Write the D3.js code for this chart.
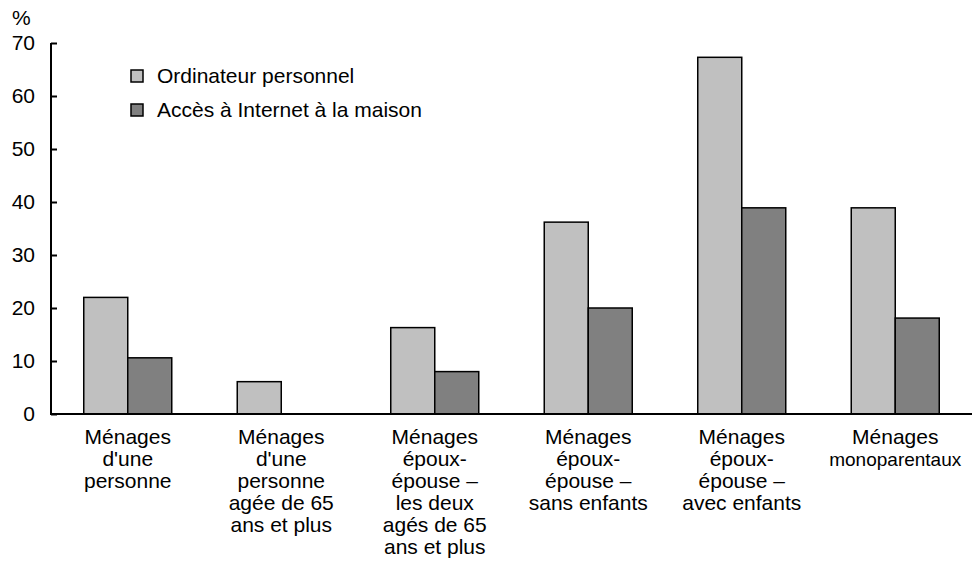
<!DOCTYPE html>
<html><head><meta charset="utf-8">
<script src="https://cdn.jsdelivr.net/npm/d3@7"></script>
<style>body{margin:0;background:#fff}svg{display:block}text{font-family:"Liberation Sans",Arial,sans-serif;fill:#000}</style>
</head><body><svg id="c" width="973" height="567"></svg>
<script>
const categories = [
  ["Ménages","d'une","personne"],
  ["Ménages","d'une","personne","agée de 65","ans et plus"],
  ["Ménages","époux-","épouse –","les deux","agés de 65","ans et plus"],
  ["Ménages","époux-","épouse –","sans enfants"],
  ["Ménages","époux-","épouse –","avec enfants"],
  ["Ménages","monoparentaux"]
];
const seriesNames = ["Ordinateur personnel","Accès à Internet à la maison"];
const ordinateur = [22.0, 6.1, 16.3, 36.2, 67.3, 38.9];
const internet = [10.6, 0, 8.0, 20.0, 38.9, 18.1];
const yTicks = [0,10,20,30,40,50,60,70];
const colors = ["#c0c0c0","#808080"];

(function(){
const svg = d3.select("#c");
const mL = 51, mR = 972, mT = 43, mB = 414;
const idx = categories.map((d,i)=>i);
const x0 = d3.scaleBand().domain(idx).range([mL, mR]).paddingInner(0.4267).paddingOuter(0.21335);
const x1 = d3.scaleBand().domain([0,1]).range([0, x0.bandwidth()]);
const y = d3.scaleLinear().domain([0,70]).range([mB, mT]);
const fs = 21;

const data = [ordinateur, internet];
idx.forEach(i=>{
  data.forEach((s,k)=>{
    if (s[i] <= 0) return;
    svg.append("rect")
      .attr("x", x0(i)+x1(k)).attr("y", y(s[i]))
      .attr("width", x1.bandwidth()).attr("height", y(0)-y(s[i]))
      .attr("fill", colors[k]).attr("stroke","#000").attr("stroke-width",1.5);
  });
});

const yAxis = d3.axisLeft(y).tickValues(yTicks).tickSize(-6).tickPadding(16).tickFormat(d3.format("d"));
const ga = svg.append("g").attr("transform",`translate(${mL},0)`).call(yAxis);
ga.select(".domain").attr("stroke","#000").attr("stroke-width",2).attr("d",`M0,${mT}V${mB}`);
ga.selectAll(".tick line").attr("stroke","#000").attr("stroke-width",2);
ga.selectAll(".tick text").attr("font-size",fs).attr("font-family","Liberation Sans, Arial, sans-serif").attr("fill","#000");
svg.append("text").attr("x",12).attr("y",25).attr("font-size",fs).text("%");

svg.append("line").attr("x1",mL-1).attr("x2",mR).attr("y1",mB).attr("y2",mB).attr("stroke","#000").attr("stroke-width",2);

idx.forEach(i=>{
  const cx = x0(i)+x0.bandwidth()/2;
  const t = svg.append("text").attr("text-anchor","middle").attr("font-size",fs).attr("x", cx).attr("y", 444);
  categories[i].forEach((line,j)=>{
    const ts = t.append("tspan").attr("x", cx).attr("dy", j===0?0:22).text(line);
    if (line === "monoparentaux") ts.attr("font-size",19);
  });
});

seriesNames.forEach((n,k)=>{
  const yy = 70 + k*34;
  svg.append("rect").attr("x",131).attr("y",yy).attr("width",12).attr("height",12)
    .attr("fill",colors[k]).attr("stroke","#000").attr("stroke-width",1.5);
  svg.append("text").attr("x",157).attr("y",yy+12.5).attr("font-size",fs).text(n);
});
})();
</script></body></html>
